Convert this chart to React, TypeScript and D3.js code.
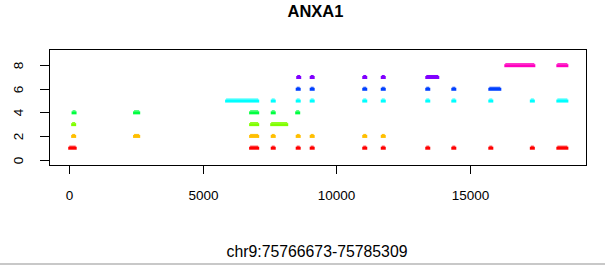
import React from "react";
import * as d3 from "d3";

const W = 605;
const H = 265;

const title = "ANXA1";
const xLabel = "chr9:75766673-75785309";
const xTicks = [0, 5000, 10000, 15000];
const yTicks = [0, 2, 4, 6, 8];
const levelColors = ["#FF0000", "#FFBF00", "#80FF00", "#00FF40", "#00FFFF", "#0040FF", "#8000FF", "#FF00BF"];

// feature ranges [start, end] (bp offset) per level
const level1 = [[50, 180], [6830, 7020], [7640, 7640], [8576, 8576], [9100, 9100], [11070, 11070], [11764, 11764], [13432, 13432], [14408, 14408], [15795, 15795], [17351, 17351], [18345, 18608]];
const level2 = [[160, 160], [2480, 2560], [6830, 7020], [7640, 7640], [8576, 8576], [9100, 9100], [11070, 11070], [11764, 11764]];
const level3 = [[160, 160], [6830, 7020], [7620, 8108]];
const level4 = [[175, 175], [2480, 2560], [6830, 7020], [7640, 7640], [8557, 8557]];
const level5 = [[5930, 7020], [7640, 7640], [8576, 8576], [9100, 9100], [11070, 11070], [11764, 11764], [13432, 13432], [14408, 14408], [15795, 15795], [17351, 17351], [18345, 18608]];
const level6 = [[8576, 8576], [9100, 9100], [11070, 11070], [11764, 11764], [13432, 13432], [14408, 14408], [15795, 16095]];
const level7 = [[8595, 8595], [9100, 9100], [11070, 11070], [11764, 11764], [13432, 13770]];
const level8 = [[16395, 17370], [18345, 18608]];

const levels = [level1, level2, level3, level4, level5, level6, level7, level8];

const regionLen = 18636;

export default function App() {
  const pad = regionLen * 0.04;
  const x = d3.scaleLinear().domain([-pad, regionLen + pad]).range([49.5, 586.5]);
  const y = d3.scaleLinear().domain([0, 8]).range([159.5, 65.2]);
  const top = 49.5, bottom = 165.5, left = 49.5, right = 586.5;
  const font = "'Liberation Sans', Arial, sans-serif";

  return (
    <svg width={W} height={H} style={{ position: "absolute", left: 0, top: 0, background: "#fff" }}>
      <rect x={0} y={0} width={W} height={H} fill="#fff" />
      <text x={315.5} y={17} textAnchor="middle" fontFamily={font} fontWeight="bold" fontSize={16.5}>{title}</text>
      {levels.map((lv, i) =>
        lv.map((r, j) => {
          const x0 = x(r[0]) - 2.5;
          const x1 = x(r[1]) + 2.5;
          const cy = y(i + 1);
          return (
            <g key={`${i}-${j}`} fill={levelColors[i]}>
              <rect x={x0} y={cy - 1} width={x1 - x0} height={3} />
              <rect x={x0 + 1} y={cy - 2} width={x1 - x0 - 2} height={1} />
            </g>
          );
        })
      )}
      <rect x={left} y={top} width={right - left} height={bottom - top} fill="none" stroke="#000" strokeWidth={1} />
      {xTicks.map((t) => {
        const px = Math.round(x(t)) + 0.5;
        return (
          <g key={t}>
            <line x1={px} x2={px} y1={bottom} y2={174} stroke="#000" />
            <text x={px} y={199.5} textAnchor="middle" fontFamily={font} fontSize={13.5}>{t}</text>
          </g>
        );
      })}
      {yTicks.map((t) => {
        const py = Math.round(y(t)) + 0.5;
        return (
          <g key={t}>
            <line x1={40} x2={left} y1={py} y2={py} stroke="#000" />
            <text transform={`translate(23,${py}) rotate(-90)`} textAnchor="middle" fontFamily={font} fontSize={13.5}>{t}</text>
          </g>
        );
      })}
      <text x={317} y={257} textAnchor="middle" fontFamily={font} fontSize={15.8}>{xLabel}</text>
      <rect x={0} y={263} width={W} height={2} fill="#c8c8c8" />
    </svg>
  );
}
